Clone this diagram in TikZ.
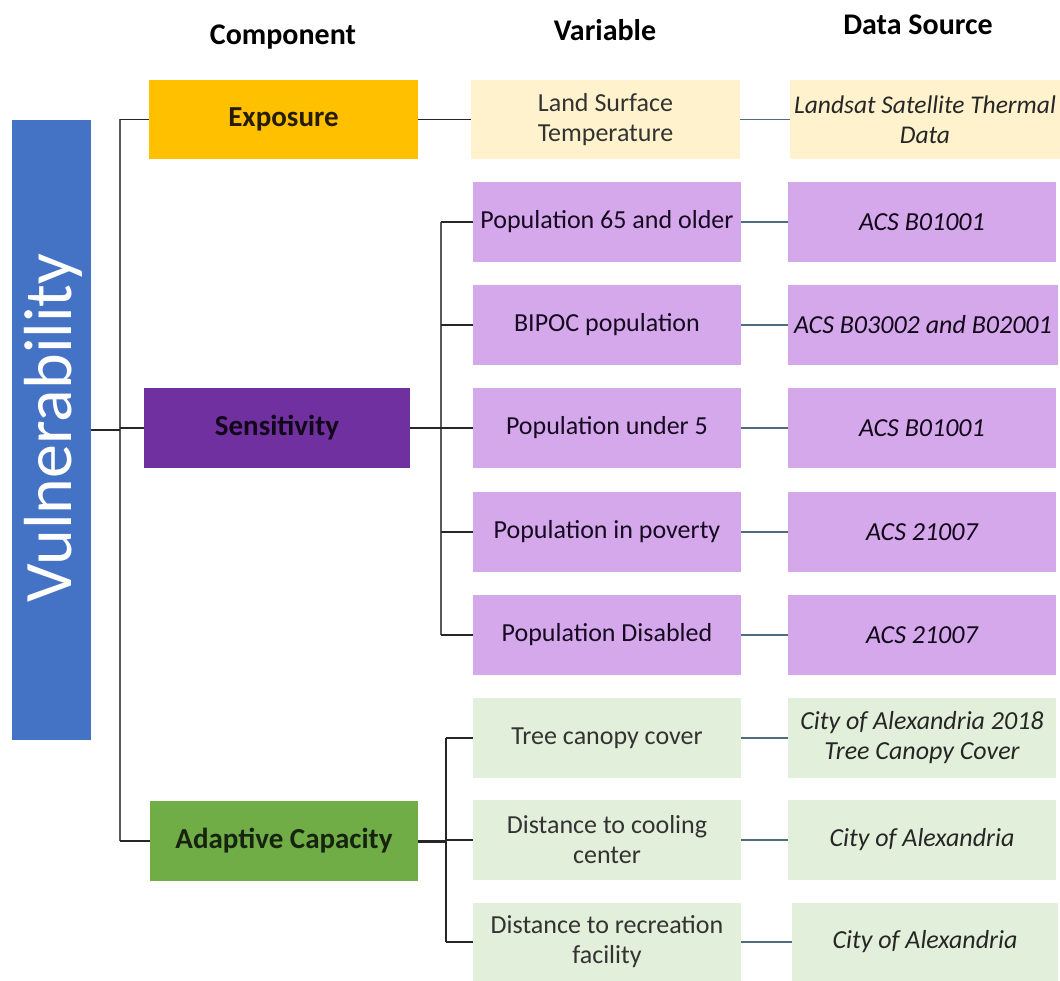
\documentclass[tikz,border=0pt]{standalone}
\usepackage{fontspec}
\setmainfont{Carlito}
\definecolor{vulblue}{HTML}{4472C4}
\definecolor{expo}{HTML}{FFC000}
\definecolor{sens}{HTML}{7030A0}
\definecolor{adap}{HTML}{70AD47}
\definecolor{lyellow}{HTML}{FFF2CC}
\definecolor{lpurple}{HTML}{D5A8EC}
\definecolor{lgreen}{HTML}{E2EFDA}
\definecolor{linkblue}{HTML}{4F6B80}
\begin{document}
\begin{tikzpicture}[x=1pt,y=-1pt,
  hdr/.style={font=\fontsize{30}{34}\selectfont\bfseries, text=black},
  comp/.style={minimum width=268pt, minimum height=80pt, inner sep=0pt, font=\fontsize{29}{32}\selectfont\bfseries},
  varbox/.style={minimum width=268pt, minimum height=80pt, inner sep=0pt, align=center, font=\fontsize{26}{30}\selectfont},
  srcbox/.style={minimum width=268pt, minimum height=80pt, inner sep=0pt, align=center, font=\fontsize{26}{30}\selectfont\itshape},
  tree/.style={line width=1.8pt, draw=black!85},
  spine/.style={line width=2.2pt, draw=black!65},
  link/.style={line width=1.4pt, draw=linkblue}]
\useasboundingbox (0,0) rectangle (1060,981);
% headers
\node[hdr] (h1) at (283,37) {Component};
\node[hdr] (h2) at (605,30) {Variable};
\node[hdr] (h3) at (918,25) {Data Source};
% vulnerability
\node[fill=vulblue, minimum width=79pt, minimum height=620pt, inner sep=0pt] (vul) at (51.5,430) {};
\node[rotate=90, text=white, font=\fontsize{68}{74}\selectfont] (vt) at (53,428) {Vulnerability};
% components
\node[comp, fill=expo, text=black!85!expo, minimum width=269pt, minimum height=79pt] (exp) at (283.5,119.5) {Exposure};
\node[comp, fill=sens, text=black!85!sens, minimum width=266pt] (sen) at (277,428) {Sensitivity};
\node[comp, fill=adap, text=black!80!adap] (ada) at (284,841) {Adaptive Capacity};
% exposure row
\node[varbox, fill=lyellow, text=black!80, minimum width=269pt, minimum height=79pt] (lst) at (605.5,119.5) {Land Surface\\Temperature};
\node[srcbox, fill=lyellow, text=black!85, minimum width=270pt, minimum height=79pt, font=\fontsize{25.5}{30}\selectfont\itshape] (lsd) at (925,119.5) {Landsat Satellite Thermal\\Data};
% sensitivity rows
\node[varbox, fill=lpurple, text=black!80!sens] (v1) at (607,222) {Population 65 and older};
\node[varbox, fill=lpurple, text=black!80!sens] (v2) at (607,325) {BIPOC population};
\node[varbox, fill=lpurple, text=black!80!sens] (v3) at (607,428) {Population under 5};
\node[varbox, fill=lpurple, text=black!80!sens] (v4) at (607,532) {Population in poverty};
\node[varbox, fill=lpurple, text=black!80!sens] (v5) at (607,635) {Population Disabled};
\node[srcbox, fill=lpurple, text=black!85!sens] (s1) at (922,222) {ACS B01001};
\node[srcbox, fill=lpurple, text=black!85!sens, minimum width=270pt] (s2) at (923,325) {ACS B03002 and B02001};
\node[srcbox, fill=lpurple, text=black!85!sens] (s3) at (922,428) {ACS B01001};
\node[srcbox, fill=lpurple, text=black!85!sens] (s4) at (922,532) {ACS 21007};
\node[srcbox, fill=lpurple, text=black!85!sens] (s5) at (922,635) {ACS 21007};
% adaptive rows
\node[varbox, fill=lgreen, text=black!80] (g1) at (607,738) {Tree canopy cover};
\node[varbox, fill=lgreen, text=black!80] (g2) at (607,840) {Distance to cooling\\center};
\node[varbox, fill=lgreen, text=black!80, minimum height=78pt] (g3) at (607,942) {Distance to recreation\\facility};
\node[srcbox, fill=lgreen, text=black!85] (t1) at (922,738) {City of Alexandria 2018\\Tree Canopy Cover};
\node[srcbox, fill=lgreen, text=black!85] (t2) at (922,840) {City of Alexandria};
\node[srcbox, fill=lgreen, text=black!85, minimum width=266pt, minimum height=78pt] (t3) at (925,942) {City of Alexandria};
% bracket x positions
\coordinate (bx) at (120,0);
\coordinate (sx) at (441,0);
\coordinate (ax) at (446,0);
% main bracket
\draw[spine] (exp.west -| bx) -- (ada.west -| bx);
\draw[tree] (exp.west) -- (exp.west -| bx);
\draw[tree] (ada.west) -- (ada.west -| bx);
\draw[tree] (vul.east) -- (vul.east -| bx);
\draw[tree] (sen.west) -- (sen.west -| bx);
\draw[tree] (exp.east) -- (lst.west);
% sensitivity bracket
\draw[spine] (v1.west -| sx) -- (v5.west -| sx);
\draw[tree] (sen.east) -- (sen.east -| sx);
\foreach \v in {v1,v2,v3,v4,v5} \draw[tree] (\v.west -| sx) -- (\v.west);
% adaptive bracket
\draw[tree] (g1.west -| ax) -- (g3.west -| ax);
\draw[tree, line width=3pt] (ada.east) -- (ada.east -| ax);
\foreach \v in {g1,g2,g3} \draw[tree] (\v.west -| ax) -- (\v.west);
% links to sources
\draw[link] (lst.east) -- (lsd.west);
\draw[link] (v1.east) -- (s1.west);
\draw[link] (v2.east) -- (s2.west);
\draw[link] (v3.east) -- (s3.west);
\draw[link] (v4.east) -- (s4.west);
\draw[link] (v5.east) -- (s5.west);
\draw[link] (g1.east) -- (t1.west);
\draw[link] (g2.east) -- (t2.west);
\draw[link] (g3.east) -- (t3.west);
\end{tikzpicture}
\end{document}
